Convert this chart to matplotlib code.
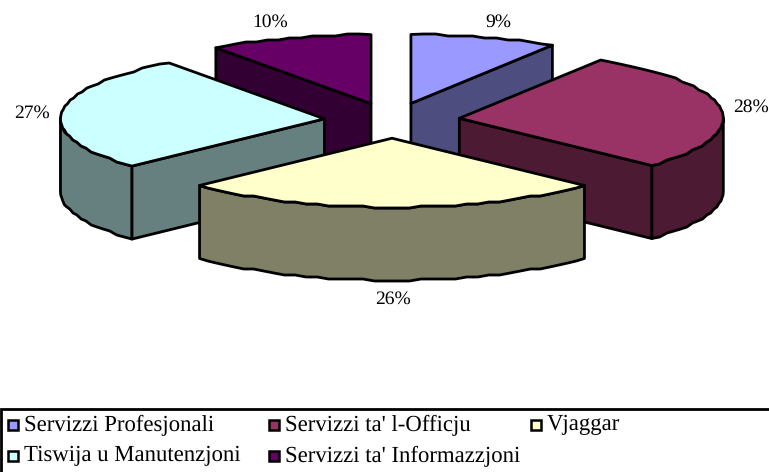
import numpy as np
import matplotlib
matplotlib.use("Agg")
import matplotlib.pyplot as plt
from matplotlib.patches import Polygon, Rectangle

plt.rcParams["font.family"] = ["Liberation Serif", "DejaVu Serif"]
plt.rcParams["text.hinting"] = "none"

categories = ["Servizzi Profesjonali", "Servizzi ta' l-Officju", "Vjaggar",
              "Tiswija u Manutenzjoni", "Servizzi ta' Informazzjoni"]
values = [9, 28, 26, 27, 10]
top_colors = ["#9999FF", "#993366", "#FFFFCC", "#CCFFFF", "#660066"]
side_colors = ["#4D4D80", "#4D1A33", "#808066", "#668080", "#330033"]

label_pos = [(498, 22), (751, 107), (393, 299), (32, 113), (270, 22)]
legend_pos = [(7, 425), (268, 425), (530, 425), (7, 456), (268, 456)]

CX, CY = 392, 120.5
A, B = 264, 69
DEPTH = 73
EXPLODE = 0.257


def rim(cx, cy, a0, a1):
    # stepped outline, the source chart has a rough polyline rim
    n = max(int(abs(a1 - a0) / 2.5), 2)
    t = np.radians(np.linspace(a0, a1, n + 1))
    x = cx + A * np.sin(t)
    y = cy - B * np.cos(t)
    inner_y = np.round(y[1:-1] / 2) * 2
    y = np.r_[y[0], inner_y, y[-1]]
    return np.column_stack([x, y])


fig = plt.figure(figsize=(7.69, 4.72), dpi=100)
ax = fig.add_axes([0, 0, 1, 1])
ax.set_xlim(0, 769)
ax.set_ylim(472, 0)
ax.axis("off")

edges = np.cumsum([0] + values) * 3.6
order = [4, 0, 3, 1, 2]
for zo, i in enumerate(order):
    a0, a1 = edges[i], edges[i + 1]
    mid = np.radians((a0 + a1) / 2)
    cx = CX + EXPLODE * A * np.sin(mid)
    cy = CY - EXPLODE * B * np.cos(mid)
    z = 2 + zo * 3
    top = rim(cx, cy, a0, a1)
    apex = np.array([cx, cy])
    down = np.array([0, DEPTH])
    kw = dict(edgecolor="black", linewidth=2.0, joinstyle="round")

    # outer wall, only the front half of the ellipse shows
    w0, w1 = max(a0, 90), min(a1, 270)
    if w1 > w0:
        wall = rim(cx, cy, w0, w1)
        ax.add_patch(Polygon(np.vstack([wall, wall[::-1] + down]),
                             facecolor=side_colors[i], zorder=z, **kw))
    # cut faces turned to the viewer
    if np.sin(np.radians(a0)) < -1e-6:
        face = np.array([apex, top[0], top[0] + down, apex + down])
        ax.add_patch(Polygon(face, facecolor=side_colors[i], zorder=z, **kw))
    if np.sin(np.radians(a1)) > 1e-6:
        face = np.array([apex, top[-1], top[-1] + down, apex + down])
        ax.add_patch(Polygon(face, facecolor=side_colors[i], zorder=z, **kw))
    ax.add_patch(Polygon(np.vstack([apex, top]), facecolor=top_colors[i], zorder=z + 1, **kw))

for v, (lx, ly) in zip(values, label_pos):
    ax.text(lx, ly, f"{v}%", ha="center", va="center", fontsize=14, color="black")

# legend band runs off the right and bottom of the canvas
ax.add_patch(Rectangle((1, 409), 790, 90, facecolor="white", edgecolor="black",
                       linewidth=2, zorder=30))
for name, col, (lx, ly) in zip(categories, top_colors, legend_pos):
    ax.add_patch(Rectangle((lx + 1, ly - 5), 10, 10, facecolor=col, edgecolor="black",
                           linewidth=1.8, zorder=31))
    ax.text(lx + 17, ly, name, ha="left", va="center", fontsize=16.4, color="black", zorder=31)

fig.savefig("out.png", dpi=100, facecolor="white")
